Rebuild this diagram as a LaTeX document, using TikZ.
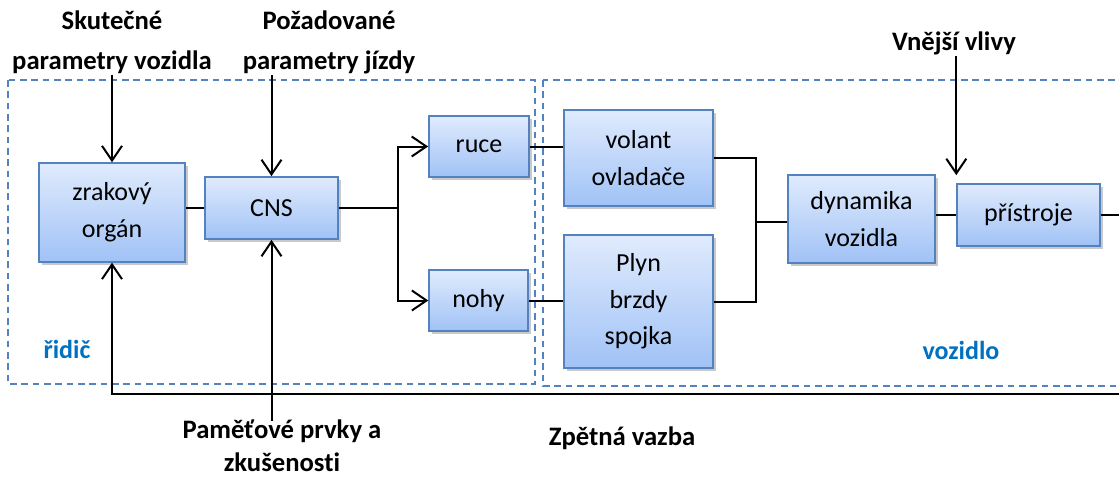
\documentclass[tikz,border=0pt]{standalone}
\usepackage{fontspec}
\setmainfont{Carlito}[Ligatures=NoCommon]
\usetikzlibrary{arrows.meta,shadows}
\definecolor{boxtop}{RGB}{224,235,253}
\definecolor{boxbot}{RGB}{160,194,246}
\definecolor{boxline}{RGB}{84,130,190}
\definecolor{zonedash}{RGB}{84,130,190}
\definecolor{zonetext}{RGB}{0,112,192}
\tikzset{
  block/.style={rectangle, draw=boxline, line width=1.3pt, top color=boxtop, bottom color=boxbot,
    inner sep=0pt, align=center, font={\fontsize{19.5}{27.5}\selectfont},
    drop shadow={shadow xshift=2pt, shadow yshift=-2pt, opacity=0.3, fill=black!70}},
  zone/.style={draw=zonedash, line width=1.1pt, dash pattern=on 5pt off 3.5pt},
  zonelabel/.style={text=zonetext, font={\fontsize{19.5}{24}\selectfont\bfseries}},
  extlabel/.style={align=center, inner sep=1pt},
  wire/.style={line width=1.5pt},
  arr/.style={wire, -{Straight Barb[length=11pt,width=15pt,line width=1.5pt]}}
}
\begin{document}
\begin{tikzpicture}[x=0.75pt,y=-0.75pt]
\useasboundingbox (0,0) rectangle (1119,478);
\begin{scope}
\clip (0,0) rectangle (1119,478);

% the two zones: driver and vehicle
\draw[zone] (8,80) rectangle (535,384);
\draw[zone] (543,80) rectangle (1135,386);
\node[zonelabel] (ridic) at (67,349) {řidič};
\node[zonelabel] (vozidlo) at (961,350) {vozidlo};

% blocks
\node[block, minimum width=109.5pt, minimum height=74pt] (zrak) at (112,212.5) {zrakový\\orgán};
\node[block, minimum width=100pt, minimum height=46.5pt] (cns) at (271.5,208) {CNS};
\node[block, minimum width=75pt, minimum height=46pt] (ruce) at (479,146.5) {ruce};
\node[block, minimum width=74pt, minimum height=46pt] (nohy) at (478.5,300.5) {nohy};
\node[block, minimum width=112pt, minimum height=72pt] (volant) at (638.5,158) {volant\\ovladače};
\node[block, minimum width=112pt, minimum height=100pt] (plyn) at (638.5,301.5) {Plyn\\brzdy\\spojka};
\node[block, minimum width=110pt, minimum height=66pt] (dyn) at (861.5,219) {dynamika\\vozidla};
\node[block, minimum width=107pt, minimum height=46.5pt] (pris) at (1028.5,215) {přístroje};

% outside inputs
\node[extlabel, font={\fontsize{20}{30}\selectfont\bfseries}] (skut) at (112,42) {Skutečné\\parametry vozidla};
\node[extlabel, font={\fontsize{20}{30}\selectfont\bfseries}] (pozad) at (329,42) {Požadované\\parametry jízdy};
\node[extlabel, inner sep=0pt, font={\fontsize{20}{25}\selectfont\bfseries}] (pam) at (282,446) {Paměťové prvky a\\zkušenosti};
\node[extlabel, font={\fontsize{20}{24}\selectfont\bfseries}] (zpet) at (622,438) {Zpětná vazba};
\node[extlabel, font={\fontsize{20}{24}\selectfont\bfseries}] (vne) at (954,43) {Vnější vlivy};

\draw[arr] (zrak.north |- skut.south) -- (zrak.north);
\draw[arr] (cns.north |- pozad.south) -- (cns.north);
\draw[arr] ([yshift=-1pt]cns.south |- pam.north) -- (cns.south);
\coordinate (vnetip) at ([yshift=6pt]pris.north west);
\draw[arr] (vnetip |- vne.south) -- (vnetip);

% signal path
\draw[wire] (cns.west) -- (cns.west -| zrak.east);
\coordinate (br) at (398,208);
\draw[wire] (cns.east) -- (br);
\draw[arr] (br) |- (ruce.west);
\draw[arr] (br) |- (nohy.west);
\draw[wire] (ruce.east) -- (ruce.east -| volant.west);
\draw[wire] (nohy.east) -- (nohy.east -| plyn.west);
\coordinate (mrg) at (756,222);
\draw[wire] (volant.east) -| (mrg) |- (plyn.east);
\draw[wire] (mrg) -- (mrg -| dyn.west);
\draw[wire] (pris.west) -- (pris.west -| dyn.east);

% feedback loop
\coordinate (fbR) at (1135,394);
\coordinate (fbL) at (zrak.south |- fbR);
\draw[arr] (pris.east) -| (fbR) -- (fbL) -- (zrak.south);
\end{scope}
\end{tikzpicture}
\end{document}
